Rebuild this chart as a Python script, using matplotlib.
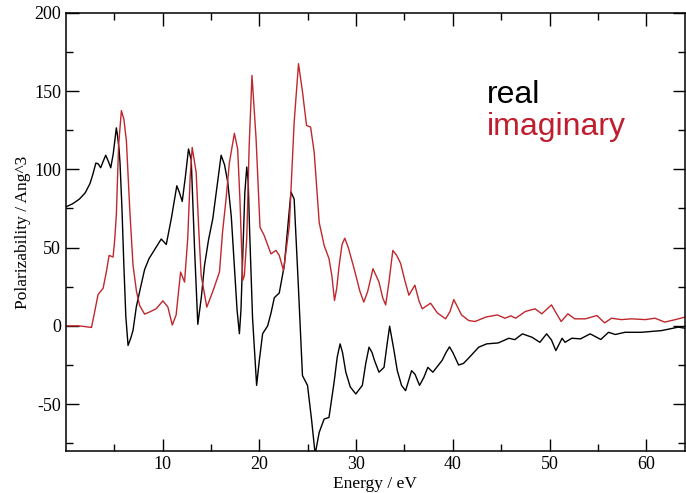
import matplotlib
matplotlib.use("Agg")
import matplotlib.pyplot as plt
from matplotlib.ticker import MultipleLocator, FixedLocator

plt.rcParams["axes.unicode_minus"] = False

# real part (black)
real_e = [0, 0.7, 1.4, 2.0, 2.5, 2.8, 3.1, 3.35, 3.6, 3.85, 4.12, 4.4, 4.64, 4.9,
          5.22, 5.35, 5.5, 5.6, 5.8, 6.0, 6.2, 6.43, 6.7, 6.94, 7.28, 7.63, 8.14,
          8.6, 9.0, 9.4, 9.86, 10.38, 10.9, 11.47, 11.75, 12.03, 12.35, 12.68,
          12.96, 13.3, 13.64, 14.0, 14.33, 14.75, 15.19, 15.6, 16.05, 16.4, 16.73,
          17.1, 17.42, 17.7, 17.94, 18.1, 18.28, 18.5, 18.7, 18.85, 19.0, 19.3,
          19.72, 20.0, 20.34, 20.86, 21.2, 21.55, 22.06, 22.58, 22.9, 23.27, 23.6,
          24.0, 24.46, 24.98, 25.4, 25.77, 26.19, 26.7, 27.2, 27.73, 28.05, 28.35,
          28.6, 28.94, 29.4, 29.97, 30.65, 31.0, 31.34, 31.65, 31.9, 32.37, 32.89,
          33.2, 33.47, 33.7, 33.9, 34.26, 34.7, 35.12, 35.74, 36.1, 36.56, 37.0,
          37.42, 37.94, 38.9, 39.3, 39.66, 40.0, 40.6, 41.1, 41.65, 42.68, 43.5,
          44.7, 45.8, 46.4, 47.2, 48.2, 49.0, 49.7, 50.2, 50.65, 51.3, 51.6, 52.3,
          53.2, 54.2, 55.3, 56.1, 56.8, 57.8, 59.5, 61.6, 63.3, 64]
real_p = [76, 78, 81, 85, 91, 97, 104, 103.5, 101, 105, 109, 105, 101, 110,
          126.5, 121, 113, 104, 75, 38, 6, -12.5, -8, -3, 12, 22, 36,
          43, 47, 51, 55.5, 52, 68.5, 89.5, 85, 79.5, 95, 113,
          106, 50, 1, 18, 38.5, 55, 68.5, 88, 109, 103, 92,
          70, 38.6, 10, -5, 10, 43, 85, 101.5, 92, 60, 5,
          -38, -22, -5, 0, 8, 18, 21, 38.6, 60, 85.5, 81,
          30, -31.8, -38, -60, -82, -68, -59.5, -58.5, -36, -20, -11.5,
          -17, -29.6, -39, -43.5, -38, -24, -13.6, -17, -22, -29.6, -26.5,
          -12, -0.2, -8, -15, -28.6, -38, -41.4, -28.6, -31, -38, -33,
          -26.5, -29.6, -22, -17, -13.4, -17, -25, -24, -20.5, -13.6, -11.5,
          -10.9, -7.9, -8.8, -5.1, -7.3, -10.5, -5.1, -9, -15.8, -7.9, -10.5, -7.9,
          -8.3, -5.1, -8.7, -4.1, -5.5, -4.1, -4.1, -3, -0.8, -1.5]

# imaginary part (red)
imag_e = [0, 1.4, 2.65, 2.85, 3.33, 3.85, 4.2, 4.47, 4.88, 5.05, 5.22, 5.45,
          5.74, 6.0, 6.26, 6.6, 6.94, 7.3, 7.63, 8.14, 8.7, 9.35, 10.03, 10.55,
          11.0, 11.4, 11.86, 12.27, 12.6, 12.85, 13.06, 13.47, 13.75, 13.99,
          14.57, 15.19, 15.88, 16.2, 16.56, 16.9, 17.42, 17.76, 18.0, 18.28,
          18.45, 18.7, 18.95, 19.24, 19.66, 20.07, 20.5, 21.2, 21.72, 22.06,
          22.5, 23.1, 23.6, 24.05, 24.46, 24.88, 25.3, 25.67, 26.19, 26.7, 27.2,
          27.5, 27.77, 28.0, 28.25, 28.55, 28.83, 29.2, 29.8, 30.4, 30.8, 31.2,
          31.75, 32.37, 32.75, 33.06, 33.4, 33.8, 34.2, 34.6, 35.0, 35.46, 36.08,
          36.5, 36.84, 37.7, 38.4, 39.25, 39.7, 40.1, 40.5, 40.9, 41.65, 42.3,
          43.4, 44.6, 45.4, 46.0, 46.5, 47.5, 48.5, 49.2, 50.2, 50.7, 51.2, 51.9,
          52.6, 53.7, 54.9, 55.7, 56.4, 57.4, 58.5, 59.9, 60.9, 61.9, 63.0, 64]
imag_p = [0, 0, -1, 5, 20, 24, 35, 45, 44, 55, 71, 115,
          137.5, 132, 118, 75, 39, 22, 13, 7.5, 9, 11, 16, 12,
          0.5, 7, 34.4, 28, 56, 95, 114, 98, 60, 32,
          12, 22, 34.4, 60, 81, 104, 123, 113, 80, 29,
          32, 56, 115, 160, 120, 63, 57.8, 46, 48.2, 45,
          35.4, 64, 130, 167.5, 149.6, 128, 127, 111, 66, 51.4, 43,
          32, 16.2, 24, 38.6, 52, 56, 50, 36.5, 22, 15.2, 22,
          36.5, 28, 18, 13.4, 28, 48.2, 45, 40, 30,
          19.6, 26, 16, 10.9, 14.5, 8.3, 4.5, 9, 16.8, 12, 7, 3.4, 2.8,
          5.6, 7, 4.9, 6.4, 4.9, 9.2, 10.9, 7.7, 13.4, 8, 2.8, 7.7,
          4.5, 4.5, 6.6, 1.9, 4.9, 4, 4.5, 4, 4.9, 2.4, 4, 5.6]

red = "#c0272d"

fig = plt.figure(figsize=(6.86, 4.93), dpi=100)
ax = fig.add_axes([0.096, 0.085, 0.9025, 0.889])

ax.plot(real_e, real_p, color="black", lw=1.0)
ax.plot(imag_e, imag_p, color=red, lw=1.0)

ax.set_xlim(0, 64)
ax.set_ylim(-80, 200)
ax.xaxis.set_major_locator(FixedLocator([10, 20, 30, 40, 50, 60]))
ax.xaxis.set_minor_locator(FixedLocator([5, 15, 25, 35, 45, 55]))
ax.yaxis.set_major_locator(MultipleLocator(50))
ax.yaxis.set_minor_locator(MultipleLocator(25))
ax.tick_params(which="both", direction="in", top=True, right=True,
               width=1.0, labelsize=13)
ax.tick_params(which="major", length=9)
ax.tick_params(which="minor", length=5)
for lab in ax.get_xticklabels() + ax.get_yticklabels():
    lab.set_family("Liberation Serif")
for s in ax.spines.values():
    s.set_linewidth(1.1)

ax.set_xlabel("Energy / eV", family="Liberation Serif", fontsize=12.5, labelpad=2)
ax.set_ylabel("Polarizability / Ang^3", family="Liberation Serif", fontsize=12.5,
              labelpad=2)

ax.text(0.68, 0.795, "real", transform=ax.transAxes, family="Liberation Sans",
        fontsize=23, color="black", va="baseline")
ax.text(0.68, 0.722, "imaginary", transform=ax.transAxes, family="Liberation Sans",
        fontsize=23, color="#be1e2d", va="baseline")

fig.savefig("out.png", dpi=100)
